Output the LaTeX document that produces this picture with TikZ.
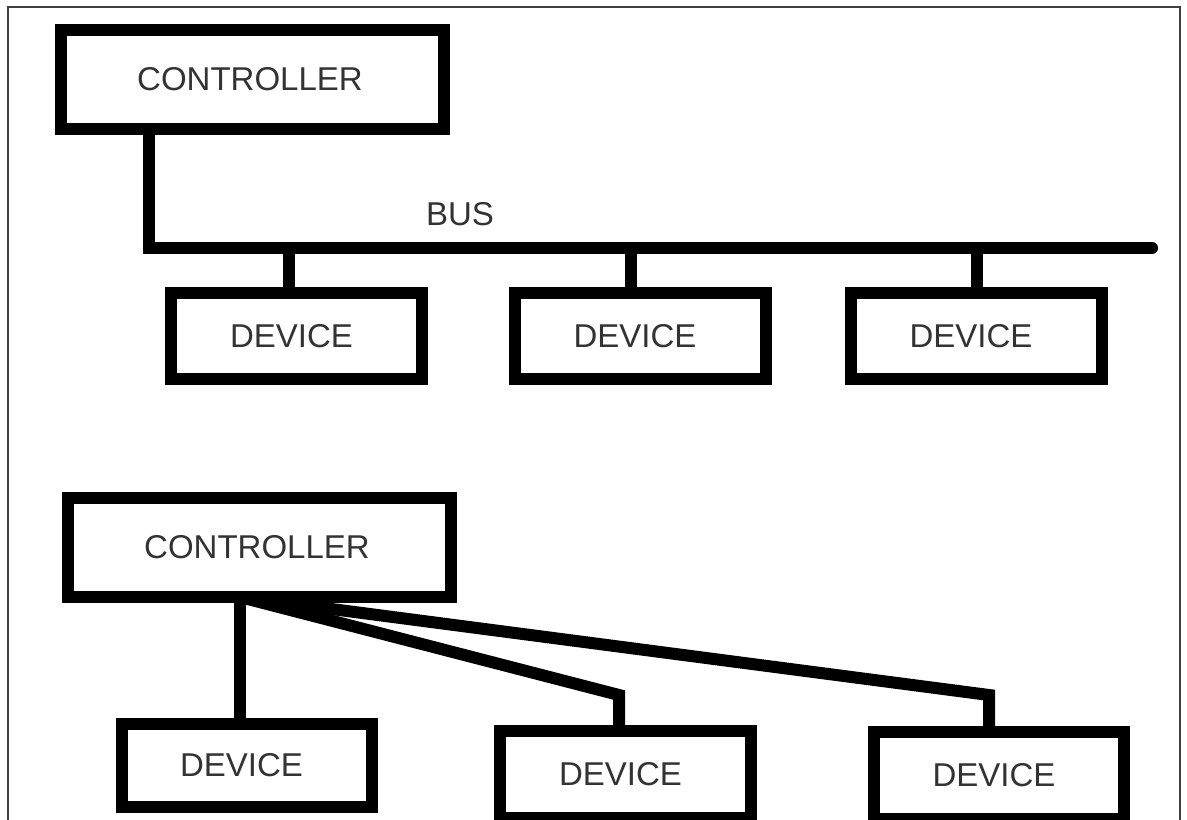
\documentclass[tikz,border=0pt]{standalone}
\usepackage{fontspec}
\setmainfont{Liberation Sans}
\begin{document}
\begin{tikzpicture}[x=0.5pt,y=-0.5pt,
  box/.style={draw=black, line width=6pt, inner sep=0pt, fill=white,
    font=\fontsize{16.5}{18}\selectfont, text=black!80},
  ctrlbox/.style={box, minimum width=191.5pt, minimum height=49.5pt,
    execute at end node={\hspace*{2.5pt}}},
  devbox/.style={box, minimum width=125.5pt, minimum height=43pt,
    execute at end node={\hspace*{5pt}}},
  lbl/.style={font=\fontsize{16.5}{18}\selectfont, text=black!80, inner sep=0pt},
  wire/.style={draw=black, line width=6pt},
  frame/.style={draw=black!75, line width=0.8pt}]
\useasboundingbox (0,0) rectangle (1187,819);
\clip (0,0) rectangle (1187,819);
\fill[white] (0,0) rectangle (1187,819);
\draw[frame] (8,7) rectangle (1180,900);

% ---------- top: bus topology ----------
\coordinate (bl) at (149,248);
\coordinate (br) at (1152,248);
\coordinate (s1) at (289,248);
\coordinate (s2) at (631,248);
\coordinate (s3) at (977,248);

\node[ctrlbox] (c1) at (252.5,79.5) {CONTROLLER};
\node[devbox] (t1) at (296.5,336) {DEVICE};
\node[devbox] (t2) at (640,336) {DEVICE};
\node[devbox] (t3) at (976,336) {DEVICE};
\node[lbl] (bus) at (460,214) {BUS};

\draw[wire, line cap=round] (c1.south -| bl) -- (bl) -- (br);
\draw[wire] (s1) -- (s1 |- t1.north);
\draw[wire] (s2) -- (s2 |- t2.north);
\draw[wire] (s3) -- (s3 |- t3.north);

% ---------- bottom: point-to-point ----------
\coordinate (o) at (240,597);
\coordinate (k2) at (619,695);
\coordinate (k3) at (989,695);

\draw[wire] (o) -- (k2) -- (k2 |- 0,731);
\draw[wire] (o) -- (k3) -- (k3 |- 0,732);
\draw[wire] (o) -- (240,724);

\node[ctrlbox] (c2) at (259.5,547.5) {CONTROLLER};
\node[devbox, minimum width=125pt, minimum height=41.5pt] (b1) at (246.5,765.5) {DEVICE};
\node[devbox, minimum width=125.5pt, minimum height=43.5pt] (b2) at (625.5,774.5) {DEVICE};
\node[devbox, minimum width=125pt, minimum height=43.5pt] (b3) at (999,775) {DEVICE};
\end{tikzpicture}
\end{document}
